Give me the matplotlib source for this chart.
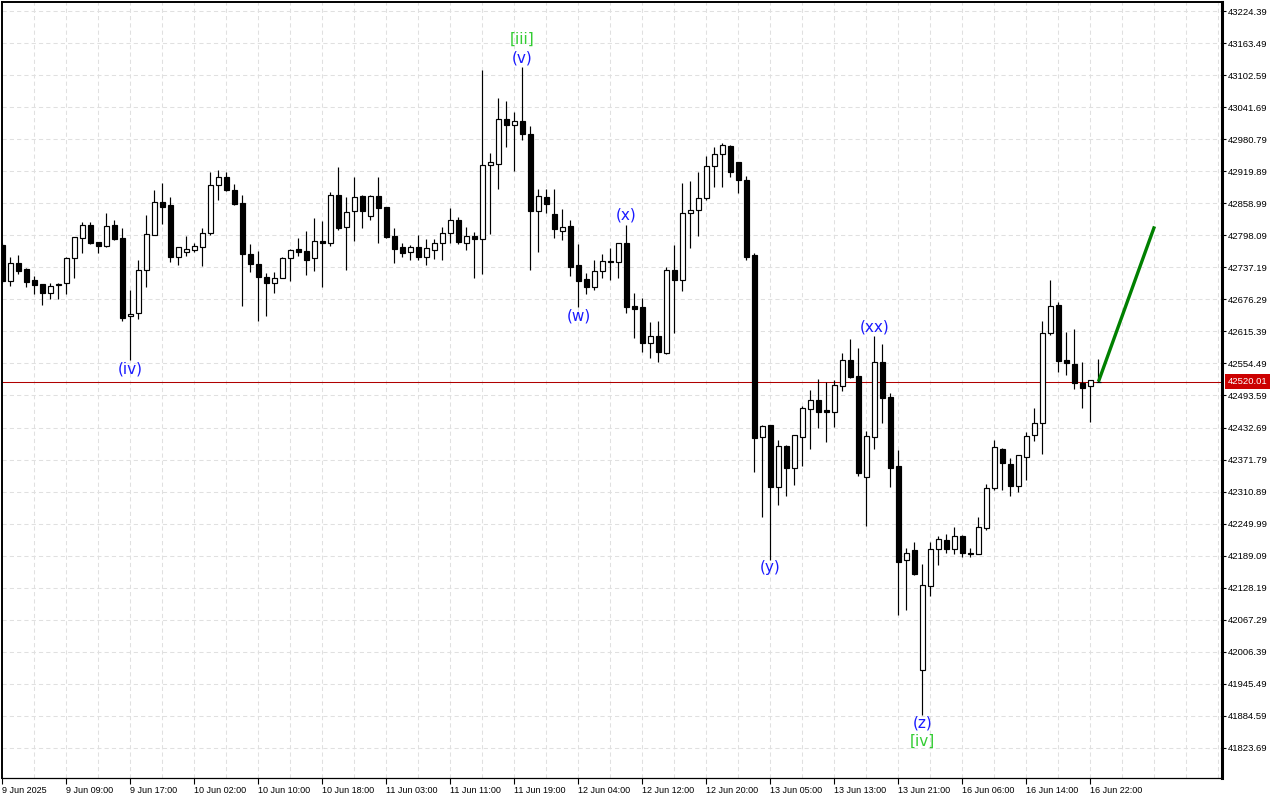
import matplotlib.pyplot as plt
from matplotlib.transforms import blended_transform_factory

#------------------------------------------------
# Hourly candles (bar index 0 = 9 Jun 2025 00:00)
#------------------------------------------------
opens = [42780, 42712, 42745, 42734, 42713, 42705, 42689, 42703, 42707, 42754,
         42792, 42817, 42785, 42778, 42817, 42793, 42645, 42650, 42732, 42799,
         42861, 42855, 42757, 42766, 42771, 42775, 42802, 42893, 42908, 42885,
         42859, 42762, 42743, 42719, 42708, 42716, 42754, 42772, 42768, 42754,
         42787, 42783, 42874, 42813, 42845, 42872, 42834, 42873, 42852, 42797,
         42775, 42766, 42775, 42756, 42771, 42783, 42802, 42828, 42784, 42797,
         42791, 42931, 42934, 43020, 43007, 43015, 42990, 42845, 42871, 42838,
         42806, 42816, 42741, 42715, 42699, 42730, 42750, 42747, 42783, 42664,
         42662, 42594, 42607, 42574, 42732, 42714, 42840, 42847, 42868, 42930,
         42952, 42968, 42937, 42904, 42760, 42414, 42437, 42320, 42397, 42356,
         42415, 42467, 42485, 42466, 42463, 42512, 42561, 42531, 42338, 42414,
         42557, 42490, 42360, 42180, 42200, 41971, 42132, 42201, 42219, 42202,
         42227, 42194, 42193, 42241, 42317, 42391, 42363, 42322, 42377, 42418,
         42441, 42612, 42666, 42561, 42553, 42517, 42511, 42520]
highs = [42783, 42757, 42761, 42736, 42721, 42706, 42708, 42707, 42756, 42795,
         42824, 42824, 42786, 42840, 42827, 42812, 42694, 42751, 42836, 42884,
         42897, 42870, 42776, 42797, 42783, 42811, 42919, 42923, 42919, 42895,
         42874, 42781, 42768, 42726, 42728, 42757, 42772, 42793, 42806, 42830,
         42825, 42881, 42928, 42870, 42908, 42874, 42874, 42908, 42852, 42811,
         42783, 42780, 42798, 42791, 42791, 42814, 42850, 42833, 42814, 42804,
         43112, 42954, 43059, 43053, 43032, 43118, 43006, 42886, 42886, 42886,
         42848, 42827, 42781, 42726, 42751, 42762, 42773, 42784, 42818, 42688,
         42678, 42633, 42635, 42738, 42780, 42898, 42901, 42918, 42949, 42965,
         42973, 42970, 42937, 42910, 42764, 42438, 42438, 42409, 42399, 42418,
         42474, 42504, 42525, 42520, 42523, 42574, 42601, 42584, 42426, 42607,
         42591, 42498, 42390, 42203, 42216, 42173, 42216, 42227, 42230, 42244,
         42229, 42203, 42263, 42325, 42409, 42393, 42374, 42381, 42425, 42470,
         42635, 42713, 42671, 42615, 42619, 42557, 42523, 42563]
lows = [42707, 42702, 42724, 42700, 42686, 42666, 42677, 42677, 42686, 42717,
        42765, 42781, 42765, 42776, 42789, 42636, 42561, 42639, 42699, 42798,
        42819, 42748, 42741, 42759, 42767, 42740, 42798, 42865, 42883, 42855,
        42664, 42729, 42636, 42645, 42689, 42716, 42712, 42759, 42722, 42731,
        42699, 42778, 42808, 42732, 42788, 42812, 42827, 42784, 42793, 42746,
        42757, 42752, 42752, 42742, 42753, 42751, 42784, 42782, 42770, 42717,
        42725, 42800, 42886, 42966, 42921, 42979, 42733, 42766, 42840, 42793,
        42789, 42721, 42662, 42686, 42695, 42716, 42713, 42717, 42650, 42603,
        42577, 42564, 42558, 42573, 42612, 42693, 42773, 42797, 42865, 42889,
        42890, 42909, 42878, 42752, 42349, 42263, 42181, 42285, 42303, 42323,
        42360, 42392, 42432, 42406, 42434, 42503, 42527, 42341, 42246, 42391,
        42441, 42320, 42077, 42086, 42152, 41887, 42113, 42171, 42195, 42192,
        42187, 42186, 42192, 42237, 42313, 42313, 42303, 42311, 42332, 42408,
        42382, 42609, 42539, 42532, 42505, 42470, 42444, 42519]
closes = [42712, 42745, 42731, 42710, 42704, 42689, 42702, 42705, 42754, 42794,
          42817, 42784, 42778, 42815, 42791, 42641, 42648, 42732, 42800, 42862,
          42852, 42757, 42775, 42772, 42777, 42802, 42893, 42908, 42884, 42857,
          42762, 42743, 42719, 42708, 42717, 42755, 42771, 42766, 42752, 42787,
          42783, 42874, 42812, 42843, 42870, 42845, 42872, 42850, 42795, 42772,
          42765, 42775, 42756, 42773, 42783, 42802, 42828, 42785, 42797, 42791,
          42931, 42937, 43020, 43007, 43015, 42990, 42845, 42872, 42857, 42810,
          42813, 42738, 42712, 42699, 42730, 42750, 42748, 42783, 42662, 42658,
          42594, 42607, 42577, 42732, 42714, 42840, 42847, 42868, 42930, 42952,
          42969, 42919, 42903, 42756, 42413, 42436, 42320, 42398, 42356, 42418,
          42469, 42485, 42463, 42463, 42514, 42561, 42529, 42347, 42417, 42557,
          42489, 42356, 42178, 42194, 42154, 42134, 42201, 42220, 42202, 42227,
          42195, 42192, 42244, 42317, 42395, 42365, 42322, 42380, 42416, 42441,
          42612, 42664, 42560, 42555, 42517, 42508, 42523, 42520.01]

last_price = 42520.01

# forecast line
fc_bars = [137, 144]
fc_prices = [42520.01, 42815]

# wave labels: (text, bar, 'high'/'low', offset in px, colour)
waves = [
    ('(iv)', 16, 'low', -9, '#1a1aff'),
    ('[iii]', 65, 'high', 28, '#33cc33'),
    ('(v)', 65, 'high', 9, '#1a1aff'),
    ('(w)', 72, 'low', -9, '#1a1aff'),
    ('(x)', 78, 'high', 10, '#1a1aff'),
    ('(y)', 96, 'low', -8, '#1a1aff'),
    ('(xx)', 109, 'high', 9, '#1a1aff'),
    ('(z)', 115, 'low', -8, '#1a1aff'),
    ('[iv]', 115, 'low', -27, '#33cc33'),
]

time_labels = ['9 Jun 2025', '9 Jun 09:00', '9 Jun 17:00', '10 Jun 02:00',
               '10 Jun 10:00', '10 Jun 18:00', '11 Jun 03:00', '11 Jun 11:00',
               '11 Jun 19:00', '12 Jun 04:00', '12 Jun 12:00', '12 Jun 20:00',
               '13 Jun 05:00', '13 Jun 13:00', '13 Jun 21:00', '16 Jun 06:00',
               '16 Jun 14:00', '16 Jun 22:00']
price_ticks = [43224.39, 43163.49, 43102.59, 43041.69, 42980.79, 42919.89,
               42858.99, 42798.09, 42737.19, 42676.29, 42615.39, 42554.49,
               42493.59, 42432.69, 42371.79, 42310.89, 42249.99, 42189.09,
               42128.19, 42067.29, 42006.39, 41945.49, 41884.59, 41823.69]

#------------------------------------------------
# Figure
#------------------------------------------------
fig = plt.figure(figsize=(12.8, 8), dpi=100)
ax = fig.add_axes([2 / 1280, 22 / 800, 1220 / 1280, 776 / 800])
ax.set_xlim(-0.06, 152.44)
ax.set_ylim(41766.5, 43241.5)

n = len(opens)
xs = list(range(n))

# grid
for k in range(0, 153, 4):
    ax.axvline(k, color='#e0e0e0', lw=0.75, ls=(0, (4, 3)), zorder=0)
for p in price_ticks:
    ax.axhline(p, color='#e0e0e0', lw=0.75, ls=(0, (4, 3)), zorder=0)

# candles
ax.vlines(xs, lows, highs, color='black', lw=0.85, zorder=2)
for i in xs:
    o, c = opens[i], closes[i]
    face = 'white' if c >= o else 'black'
    ax.bar(i, abs(c - o), bottom=min(o, c), width=0.62, color=face,
           edgecolor='black', linewidth=0.85, zorder=3)

# current price
ax.axhline(last_price, color='#b00000', lw=0.75, zorder=1)

# forecast
ax.plot(fc_bars, fc_prices, color='#008000', lw=2.4, zorder=4,
        solid_capstyle='butt')

# wave labels
for txt, b, side, off, col in waves:
    yv = highs[b] if side == 'high' else lows[b]
    ax.annotate(txt, xy=(b, yv), xytext=(0, off * 0.72), textcoords='offset points',
                ha='center', va='center', color=col, fontsize=11,
                family='DejaVu Sans', zorder=5)

#------------------------------------------------
# Axes styling
#------------------------------------------------
ax.yaxis.tick_right()
ax.set_yticks(price_ticks)
ax.set_yticklabels(['%.2f' % p for p in price_ticks])
ax.set_xticks(list(range(0, n, 8)))
ax.set_xticklabels(time_labels, ha='left')
ax.tick_params(axis='y', direction='out', length=3, width=0.8, pad=1.5,
               labelsize=6.8, colors='black')
ax.tick_params(axis='x', direction='out', length=4, width=0.8, pad=1.5,
               labelsize=6.5, colors='black')
for lab in ax.get_xticklabels() + ax.get_yticklabels():
    lab.set_family('Liberation Sans')

for s in ['left', 'top']:
    ax.spines[s].set_linewidth(1.4)
ax.spines['bottom'].set_linewidth(0.9)
ax.spines['right'].set_linewidth(2.2)

# price tag
tr = blended_transform_factory(ax.transAxes, ax.transData)
ax.text(1.0045, last_price, '%.2f' % last_price, transform=tr, ha='left',
        va='center', color='white', fontsize=6.8, family='Liberation Sans',
        bbox=dict(boxstyle='square,pad=0.3', facecolor='#cc0000',
                  edgecolor='none'), clip_on=False, zorder=6)

fig.savefig('out.png', dpi=100)
